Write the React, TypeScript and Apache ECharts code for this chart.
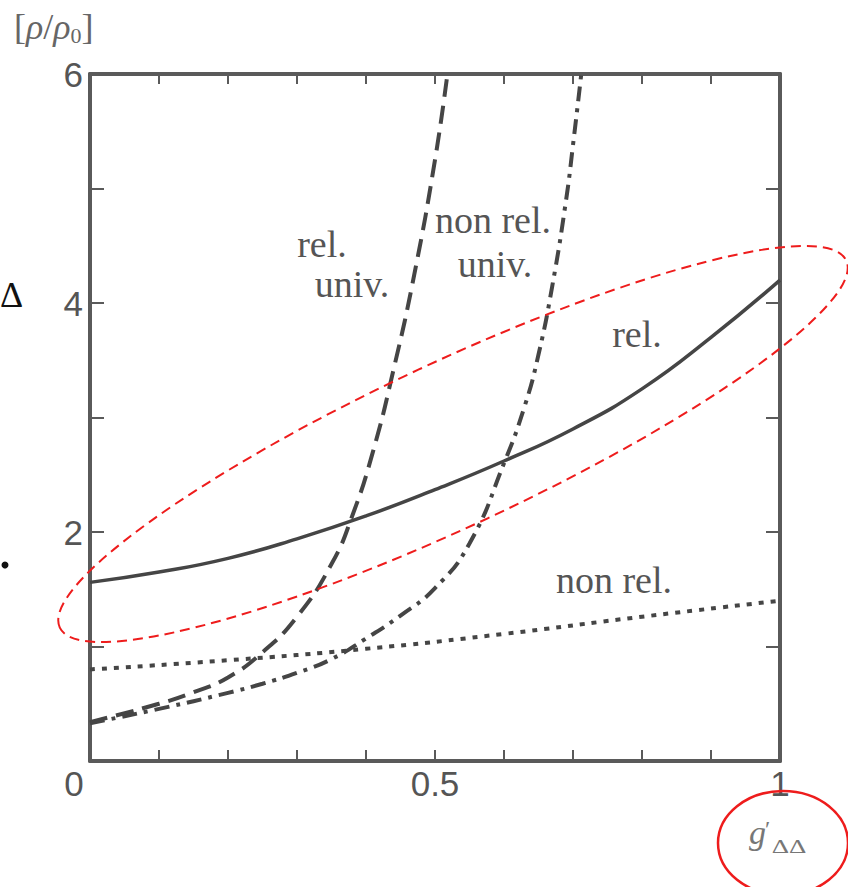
import React, { useEffect, useRef } from "react";
import * as echarts from "echarts";

// x ticks shown with labels, y ticks shown with labels
const xTickLabels = [0, 0.5, 1];
const yTickLabels = [2, 4, 6];

// "rel." (solid)
const relX = [0, 0.1, 0.2, 0.3, 0.4, 0.5, 0.6, 0.7, 0.8, 0.9, 1.0];
const relY = [1.56, 1.65, 1.77, 1.94, 2.14, 2.37, 2.62, 2.9, 3.25, 3.7, 4.2];

// "non rel." (dotted)
const nonRelX = [0, 0.2, 0.4, 0.6, 0.8, 1.0];
const nonRelY = [0.8, 0.88, 0.98, 1.11, 1.26, 1.4];

// "rel. univ." (dashed)
const relUnivX = [0, 0.1, 0.15, 0.2, 0.25, 0.3, 0.35, 0.38, 0.41, 0.44, 0.47, 0.5, 0.518];
const relUnivY = [0.34, 0.5, 0.6, 0.73, 0.95, 1.26, 1.72, 2.14, 2.7, 3.42, 4.25, 5.25, 6.0];

// "non rel. univ." (dash-dot)
const nonRelUnivX = [0, 0.1, 0.2, 0.25, 0.3, 0.35, 0.4, 0.45, 0.5, 0.55, 0.6, 0.63, 0.65, 0.67, 0.69, 0.7, 0.712];
const nonRelUnivY = [0.33, 0.455, 0.595, 0.675, 0.77, 0.89, 1.07, 1.27, 1.51, 1.9, 2.6, 3.1, 3.55, 4.15, 4.9, 5.38, 6.0];

const zip = (xs: number[], ys: number[]) => xs.map((x, i) => [x, ys[i]]);

const CURVE = "#454545";
const AXIS = "#5a5a5a";
const LABEL = "#555";
const SERIF = "'Liberation Serif', 'DejaVu Serif', serif";
const SANS = "'Liberation Sans', Arial, sans-serif";

export default function App() {
  const ref = useRef<HTMLDivElement>(null);
  useEffect(() => {
    if (!ref.current) return;
    const chart = echarts.init(ref.current, undefined, { renderer: "svg" });
    const near = (arr: number[], v: number) => arr.some((a) => Math.abs(a - v) < 1e-6);
    const lineBase = { type: "line", showSymbol: false, symbol: "none", smooth: 0.5, z: 3 };
    chart.setOption({
      animation: false,
      backgroundColor: "#fff",
      grid: { left: 90, right: 68, top: 74, bottom: 126, containLabel: false },
      xAxis: [
        {
          type: "value", position: "bottom", min: 0, max: 1, interval: 0.1,
          axisLine: { show: true, onZero: false, lineStyle: { color: AXIS, width: 4 } },
          axisTick: { show: true, inside: true, length: 11, lineStyle: { color: AXIS, width: 2 } },
          splitLine: { show: false },
          axisLabel: {
            margin: 5, color: LABEL, fontFamily: SANS, fontSize: 35,
            formatter: (v: number) => {
              if (!near(xTickLabels, v)) return "";
              if (Math.abs(v) < 1e-6) return "{z|0}";
              return String(+v.toFixed(2));
            },
            rich: { z: { padding: [0, 32, 0, 0], fontFamily: SANS, fontSize: 35, color: LABEL } },
          },
        },
        {
          type: "value", position: "top", min: 0, max: 1, interval: 0.1,
          axisLine: { show: true, onZero: false, lineStyle: { color: AXIS, width: 4 } },
          axisTick: { show: true, inside: true, length: 10, lineStyle: { color: AXIS, width: 2 } },
          splitLine: { show: false }, axisLabel: { show: false },
        },
      ],
      yAxis: [
        {
          type: "value", position: "left", min: 0, max: 6, interval: 1,
          axisLine: { show: true, onZero: false, lineStyle: { color: AXIS, width: 4 } },
          axisTick: { show: true, inside: true, length: 14, lineStyle: { color: AXIS, width: 2 } },
          splitLine: { show: false },
          axisLabel: {
            margin: 7, color: LABEL, fontFamily: SANS, fontSize: 35,
            formatter: (v: number) => (near(yTickLabels, v) ? String(v) : ""),
          },
        },
        {
          type: "value", position: "right", min: 0, max: 6, interval: 1,
          axisLine: { show: true, onZero: false, lineStyle: { color: AXIS, width: 4 } },
          axisTick: { show: true, inside: true, length: 14, lineStyle: { color: AXIS, width: 2 } },
          splitLine: { show: false }, axisLabel: { show: false },
        },
      ],
      series: [
        { ...lineBase, name: "rel.", data: zip(relX, relY), lineStyle: { color: CURVE, width: 3.5 } },
        { ...lineBase, name: "non rel.", data: zip(nonRelX, nonRelY), lineStyle: { color: CURVE, width: 4, type: [5, 7] } },
        { ...lineBase, name: "rel. univ.", data: zip(relUnivX, relUnivY), lineStyle: { color: CURVE, width: 4, type: [18, 9] } },
        { ...lineBase, name: "non rel. univ.", data: zip(nonRelUnivX, nonRelUnivY), lineStyle: { color: CURVE, width: 4, type: [15, 7, 4, 7] } },
      ],
      graphic: [
        // y-axis title
        {
          type: "text", x: 14, y: 8, z: 10,
          style: {
            text: "{b|[}{r|ρ}{b|/}{r|ρ}{s|0}{b|]}", align: "left", verticalAlign: "top",
            rich: {
              b: { fontFamily: SERIF, fontSize: 36, lineHeight: 38, fill: "#666" },
              r: { fontFamily: SERIF, fontSize: 36, lineHeight: 38, fontStyle: "italic", fill: "#666" },
              s: { fontFamily: SERIF, fontSize: 22, lineHeight: 22, fill: "#666", verticalAlign: "bottom" },
            },
          },
        },
        // curve labels
        { type: "text", x: 322, y: 244, z: 10, style: { text: "rel.", font: `38px ${SERIF}`, fill: LABEL, align: "center", verticalAlign: "middle" } },
        { type: "text", x: 352, y: 284, z: 10, style: { text: "univ.", font: `38px ${SERIF}`, fill: LABEL, align: "center", verticalAlign: "middle" } },
        { type: "text", x: 493, y: 220, z: 10, style: { text: "non rel.", font: `38px ${SERIF}`, fill: LABEL, align: "center", verticalAlign: "middle" } },
        { type: "text", x: 495, y: 264, z: 10, style: { text: "univ.", font: `38px ${SERIF}`, fill: LABEL, align: "center", verticalAlign: "middle" } },
        { type: "text", x: 637, y: 334, z: 10, style: { text: "rel.", font: `38px ${SERIF}`, fill: LABEL, align: "center", verticalAlign: "middle" } },
        { type: "text", x: 614, y: 580, z: 10, style: { text: "non rel.", font: `38px ${SERIF}`, fill: LABEL, align: "center", verticalAlign: "middle" } },
        // x-axis title g'_ΔΔ
        { type: "text", x: 749, y: 832, z: 10, style: { text: "g", font: `italic 34px ${SERIF}`, fill: "#777", align: "left", verticalAlign: "middle" } },
        { type: "text", x: 765, y: 829, z: 10, style: { text: "′", font: `24px ${SERIF}`, fill: "#777", align: "left", verticalAlign: "middle" } },
        { type: "text", x: 789, y: 847, z: 10, scaleX: 1.5, style: { text: "ΔΔ", font: `18px ${SERIF}`, fill: "#777", align: "center", verticalAlign: "middle" } },
        // stray page glyphs at the left edge
        { type: "text", x: 0, y: 295, z: 10, style: { text: "Δ", font: `36px ${SERIF}`, fill: "#111", align: "left", verticalAlign: "middle" } },
        { type: "circle", z: 10, shape: { cx: 5, cy: 565, r: 3.5 }, style: { fill: "#111" } },
        // red annotations
        {
          type: "ellipse", z: 20, x: 453, y: 444, rotation: (25 * Math.PI) / 180,
          shape: { cx: 0, cy: 0, rx: 434, ry: 82 },
          style: { fill: "none", stroke: "#ee1c1c", lineWidth: 2, lineDash: [10, 6] },
        },
        {
          type: "ellipse", z: 20,
          shape: { cx: 783, cy: 843, rx: 65, ry: 52 },
          style: { fill: "none", stroke: "#ee1c1c", lineWidth: 2.5 },
        },
      ],
    });
    return () => chart.dispose();
  }, []);
  return (
    <div
      ref={ref}
      style={{ position: "fixed", left: 0, top: 0, width: 848, height: 887, background: "#fff" }}
    />
  );
}
